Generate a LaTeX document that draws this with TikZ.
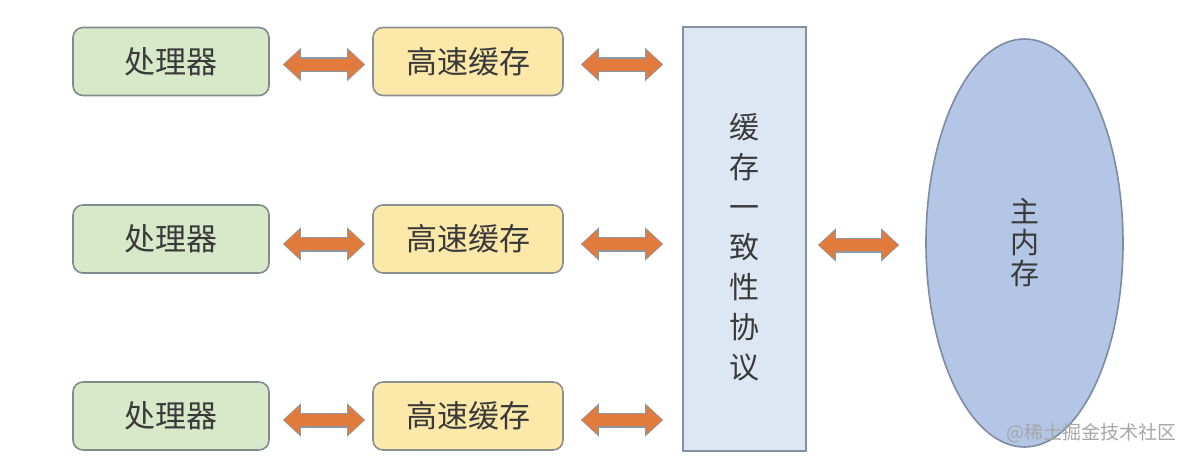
\documentclass[tikz,border=0pt]{standalone}
\usepackage{fontspec}
\newfontfamily\cjk{Noto Sans CJK SC}
\usetikzlibrary{arrows.meta,shapes.geometric,calc}
\definecolor{procfill}{HTML}{D7E9C8}
\definecolor{procdraw}{HTML}{7F8C8D}
\definecolor{cachefill}{HTML}{FCE8A8}
\definecolor{cachedraw}{HTML}{8A8F92}
\definecolor{protofill}{HTML}{DDE7F3}
\definecolor{protodraw}{HTML}{8290A0}
\definecolor{memfill}{HTML}{B4C6E6}
\definecolor{memdraw}{HTML}{7D8BA3}
\definecolor{arrfill}{HTML}{E27A3C}
\definecolor{arrdraw}{HTML}{8C98A4}
\definecolor{txt}{HTML}{3A3A3A}
\tikzset{
  boxtext/.style={font=\cjk\fontsize{31}{36}\selectfont, text=txt},
  procbox/.style={boxtext, draw=procdraw, fill=procfill, line width=1.6pt, rounded corners=10pt,
    minimum width=196pt, minimum height=68pt, inner sep=0pt},
  cachebox/.style={boxtext, draw=cachedraw, fill=cachefill, line width=1.6pt, rounded corners=10pt,
    minimum width=190pt, minimum height=68pt, inner sep=0pt},
  protobox/.style={draw=protodraw, fill=protofill, line width=1.6pt,
    minimum width=123pt, minimum height=424pt, inner sep=0pt},
  membox/.style={ellipse, draw=memdraw, fill=memfill, line width=1.6pt,
    minimum width=197pt, minimum height=408pt, inner sep=0pt,
    font=\cjk\fontsize{29}{31}\selectfont, text=txt, align=center},
  arrout/.style={draw=arrdraw, line width=15pt, {Triangle[length=18pt,width=32pt]}-{Triangle[length=18pt,width=32pt]}},
  arrin/.style={draw=arrfill, line width=12pt, {Triangle[length=15.5pt,width=28pt]}-{Triangle[length=15.5pt,width=28pt]}},
}
\newcommand{\bigarrow}[4]{%
  \draw[arrout, shorten <=#3pt, shorten >=#4pt] #1 -- #2;
  \draw[arrin, shorten <=#3pt+1.3pt, shorten >=#4pt+1.3pt] #1 -- #2;
}
\begin{document}
\begin{tikzpicture}[x=1pt,y=-1pt]
\useasboundingbox (0,0) rectangle (1194,458);
\fill[white] (0,0) rectangle (1194,458);

\node[procbox] (p1) at (171,61.5) {处理器};
\node[procbox] (p2) at (171,239) {处理器};
\node[procbox] (p3) at (171,416) {处理器};

\node[cachebox] (c1) at (468,61.5) {高速缓存};
\node[cachebox] (c2) at (468,239) {高速缓存};
\node[cachebox] (c3) at (468,416) {高速缓存};

\node[protobox] (proto) at (744.5,239) {};
\node[boxtext, align=center, font=\cjk\fontsize{30}{40}\selectfont] (protolabel) at ([yshift=-8pt]proto.center) {缓\\存\\一\\致\\性\\协\\议};

\node[membox] (mem) at (1024.5,243) {主\\内\\存};

\bigarrow{([yshift=-3pt]p1.east)}{([yshift=-3pt]c1.west)}{13}{7}
\bigarrow{([yshift=-5pt]p2.east)}{([yshift=-5pt]c2.west)}{13}{7}
\bigarrow{([yshift=-4pt]p3.east)}{([yshift=-4pt]c3.west)}{13}{7}

\bigarrow{([yshift=-3pt]c1.east)}{($(c1.east -| proto.west)+(0,3)$)}{17}{19}
\bigarrow{([yshift=-5pt]c2.east)}{($(c2.east -| proto.west)+(0,5)$)}{17}{19}
\bigarrow{([yshift=-4pt]c3.east)}{($(c3.east -| proto.west)+(0,4)$)}{17}{19}

\bigarrow{([yshift=-6pt]proto.east)}{($(proto.east -| mem.west)+(0,6)$)}{11}{26}

\node[font=\cjk\fontsize{19}{22}\selectfont, text=gray!70, anchor=east] (wm) at (1180,433) {@稀土掘金技术社区};
\end{tikzpicture}
\end{document}
